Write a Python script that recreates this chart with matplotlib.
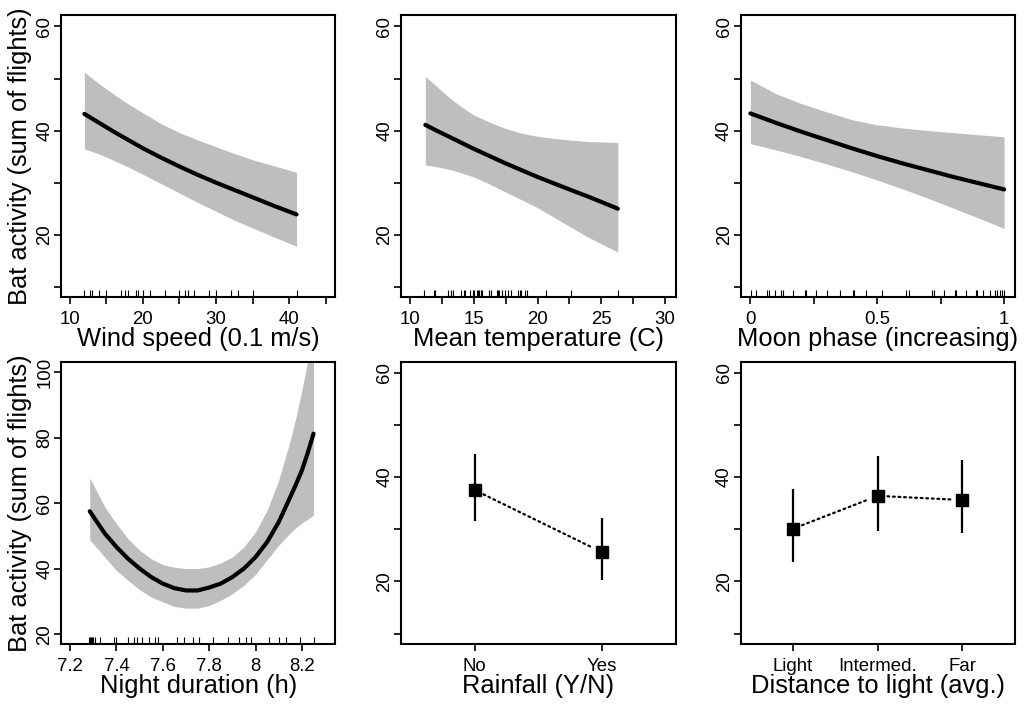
import matplotlib
matplotlib.use("Agg")
import matplotlib.pyplot as plt

plt.rcParams['font.family'] = ['Liberation Sans', 'DejaVu Sans']

# ---- data ----
wind_x = [12, 14, 16, 18, 20, 22.5, 25, 27.5, 30, 32.5, 35, 38, 41]
wind_fit = [43.2, 41.5, 39.8, 38.2, 36.6, 34.8, 33.1, 31.5, 30.0, 28.6, 27.2, 25.5, 23.9]
wind_upper = [51.2, 49.0, 47.0, 45.1, 43.4, 41.3, 39.6, 38.2, 36.9, 35.6, 34.4, 33.2, 32.0]
wind_lower = [36.5, 35.5, 34.3, 33.0, 31.6, 29.8, 28.0, 26.2, 24.5, 22.8, 21.3, 19.5, 17.8]
wind_rug = [12, 12.7, 13, 14, 15, 17, 17.6, 18, 19, 19.3, 20, 21, 23, 25,
            25.8, 26.1, 27, 29, 30, 32, 33, 35, 41]

temp_x = [11.2, 12, 13, 14, 15, 16.25, 17.5, 18.75, 20, 21.25, 22.5, 24, 25.2, 26.3]
temp_fit = [41.1, 40.1, 38.9, 37.7, 36.5, 35.1, 33.7, 32.4, 31.1, 29.9, 28.7, 27.3, 26.1, 25.0]
temp_upper = [50.4, 48.7, 46.5, 44.6, 43.0, 41.6, 40.4, 39.5, 38.9, 38.5, 38.2, 37.9, 37.8, 37.7]
temp_lower = [33.4, 33.1, 32.6, 31.9, 31.1, 29.7, 28.2, 26.7, 25.2, 23.4, 21.6, 19.5, 18.0, 16.7]
temp_rug = [11.1, 11.85, 11.95, 12.95, 13.2, 13.35, 14.0, 14.2, 14.3, 14.7,
            14.9, 15.0, 15.25, 15.35, 15.4, 15.55, 15.65, 16.2, 16.35, 16.8,
            16.9, 17.0, 17.2, 17.45, 17.7, 17.95, 18.5, 18.6, 18.7, 19.05,
            19.2, 20.7, 22.6, 26.3]

moon_x = [0, 0.1, 0.2, 0.3, 0.4, 0.5, 0.6, 0.7, 0.8, 0.9, 1.0]
moon_fit = [43.3, 41.5, 39.8, 38.2, 36.6, 35.1, 33.7, 32.4, 31.1, 29.9, 28.7]
moon_upper = [49.7, 47.1, 45.2, 43.6, 42.1, 41.1, 40.5, 40.0, 39.6, 39.2, 38.8]
moon_lower = [37.5, 36.3, 35.0, 33.6, 32.1, 30.5, 28.8, 27.0, 25.1, 23.2, 21.2]
moon_rug = [0.004, 0.024, 0.067, 0.072, 0.096, 0.122, 0.13, 0.168, 0.214,
            0.218, 0.258, 0.3, 0.352, 0.405, 0.41, 0.457, 0.52, 0.615, 0.625,
            0.715, 0.723, 0.762, 0.805, 0.812, 0.849, 0.888, 0.894, 0.917,
            0.943, 0.966, 0.972, 0.983, 0.993, 0.999]

night_x = [7.285, 7.35, 7.4, 7.45, 7.5, 7.55, 7.6, 7.65, 7.7, 7.75, 7.8,
           7.85, 7.9, 7.95, 8.0, 8.05, 8.1, 8.15, 8.175, 8.2, 8.225, 8.25]
night_fit = [57.6, 50.8, 46.7, 43.1, 40.1, 37.5, 35.5, 34.1, 33.4, 33.4,
             34.3, 35.5, 37.5, 40.1, 43.6, 48.2, 54.3, 62.0, 65.9, 70.1, 75.4, 81.3]
night_upper = [67.8, 58.9, 53.8, 49.2, 45.7, 43.1, 41.3, 40.5, 40.1, 40.1,
               40.6, 41.8, 43.6, 46.7, 51.3, 57.9, 67.1, 79.3, 86.5, 94.6, 103.5, 113.0]
night_lower = [48.9, 43.6, 39.5, 36.5, 33.6, 31.4, 29.9, 28.5, 28.0, 28.0,
               28.8, 30.4, 32.4, 35.0, 38.3, 42.8, 47.2, 51.0, 52.6, 54.0, 55.2, 56.4]
night_rug = [7.283, 7.287, 7.291, 7.296, 7.300, 7.306, 7.33, 7.39, 7.40,
             7.45, 7.476, 7.49, 7.51, 7.54, 7.566, 7.58, 7.66, 7.69, 7.73,
             7.757, 7.815, 7.88, 7.93, 7.96, 7.98, 8.06, 8.1, 8.13, 8.19, 8.25]

rain_cats = ['No', 'Yes']
rain_est = [37.5, 25.6]
rain_lo = [31.5, 20.3]
rain_hi = [44.4, 32.1]

light_cats = ['Light', 'Intermed.', 'Far']
light_est = [30.1, 36.4, 35.6]
light_lo = [23.8, 29.7, 29.2]
light_hi = [37.8, 44.0, 43.2]

y_ticks = [10, 20, 30, 40, 50, 60]
y_labels = ['', '20', '', '40', '', '60']
night_y_ticks = [20, 40, 60, 80, 100]

wind_ticks = [10, 15, 20, 25, 30, 35, 40, 45]
wind_labels = ['10', '', '20', '', '30', '', '40', '']
temp_ticks = [10, 12.5, 15, 17.5, 20, 22.5, 25, 27.5, 30]
temp_labels = ['10', '', '15', '', '20', '', '25', '', '30']
moon_ticks = [0, 0.25, 0.5, 0.75, 1]
moon_labels = ['0', '', '0.5', '', '1']
night_ticks = [7.2, 7.4, 7.6, 7.8, 8.0, 8.2]
night_labels = ['7.2', '7.4', '7.6', '7.8', '8', '8.2']

YLABEL = 'Bat activity (sum of flights)'
BAND = '#BEBEBE'

W, H = 1025, 704
fig = plt.figure(figsize=(W / 100, H / 100), dpi=100)


def add_box(left, right, top, bottom):
    return fig.add_axes([left / W, 1 - bottom / H, (right - left) / W, (bottom - top) / H])


def style(ax, yticks, ylabels):
    for s in ax.spines.values():
        s.set_linewidth(1.5)
    ax.tick_params(axis='both', direction='out', length=4.8, width=1.2, labelsize=13.4)
    ax.tick_params(axis='x', pad=5.5)
    ax.tick_params(axis='y', pad=0.8)
    ax.set_yticks(yticks)
    ax.set_yticklabels(ylabels, rotation=90, va='center')


def curve_panel(ax, x, fit, lo, hi, rug, xlabel):
    ax.fill_between(x, lo, hi, color=BAND, lw=0)
    ax.plot(x, fit, color='k', lw=3, solid_capstyle='round', solid_joinstyle='round')
    ax.vlines(rug, 0, 0.024, transform=ax.get_xaxis_transform(), color='k', lw=0.8)
    ax.set_xlabel(xlabel, fontsize=18.4)
    ax.xaxis.set_label_coords(0.5, -0.108)


def cat_panel(ax, cats, est, lo, hi, xlabel):
    pos = list(range(1, len(cats) + 1))
    # dotted connector with a small gap at each marker
    for i in range(len(pos) - 1):
        ax.annotate('', xy=(pos[i + 1], est[i + 1]), xytext=(pos[i], est[i]),
                    arrowprops=dict(arrowstyle='-', color='k', lw=1.6,
                                    linestyle=(0, (0.8, 1.7)),
                                    shrinkA=7, shrinkB=7))
    ax.vlines(pos, lo, hi, color='k', lw=1.6)
    ax.plot(pos, est, 's', color='k', ms=8)
    ax.set_xticks(pos)
    ax.set_xticklabels(cats)
    ax.set_xlabel(xlabel, fontsize=18.4)
    ax.xaxis.set_label_coords(0.5, -0.108)


# top row
ax1 = add_box(61, 335.3, 15, 296.7)
curve_panel(ax1, wind_x, wind_fit, wind_lower, wind_upper, wind_rug, 'Wind speed (0.1 m/s)')
ax1.set_xticks(wind_ticks)
ax1.set_xticklabels(wind_labels)
ax1.set_xlim(8.8, 46.3)
ax1.set_ylim(8.1, 62.2)
style(ax1, y_ticks, y_labels)

ax2 = add_box(401, 675.7, 15, 296.7)
curve_panel(ax2, temp_x, temp_fit, temp_lower, temp_upper, temp_rug, 'Mean temperature (C)')
ax2.set_xticks(temp_ticks)
ax2.set_xticklabels(temp_labels)
ax2.set_xlim(9.29, 30.84)
ax2.set_ylim(8.1, 62.2)
style(ax2, y_ticks, y_labels)

ax3 = add_box(740.5, 1015, 15, 296.7)
curve_panel(ax3, moon_x, moon_fit, moon_lower, moon_upper, moon_rug, 'Moon phase (increasing)')
ax3.set_xticks(moon_ticks)
ax3.set_xticklabels(moon_labels)
ax3.set_xlim(-0.039, 1.043)
ax3.set_ylim(8.1, 62.2)
style(ax3, y_ticks, y_labels)

# bottom row
ax4 = add_box(61, 335.3, 362.3, 643.5)
curve_panel(ax4, night_x, night_fit, night_lower, night_upper, night_rug, 'Night duration (h)')
ax4.set_xticks(night_ticks)
ax4.set_xticklabels(night_labels)
ax4.set_xlim(7.161, 8.344)
ax4.set_ylim(17.2, 103.1)
style(ax4, night_y_ticks, [str(v) for v in night_y_ticks])

ax5 = add_box(401, 675.7, 362.3, 643.5)
cat_panel(ax5, rain_cats, rain_est, rain_lo, rain_hi, 'Rainfall (Y/N)')
ax5.set_xlim(0.42, 2.58)
ax5.set_ylim(8.1, 62.0)
style(ax5, y_ticks, y_labels)

ax6 = add_box(740.5, 1015, 362.3, 643.5)
cat_panel(ax6, light_cats, light_est, light_lo, light_hi, 'Distance to light (avg.)')
ax6.set_xlim(0.38, 3.62)
ax6.set_ylim(8.1, 62.0)
style(ax6, y_ticks, y_labels)

for ax in (ax1, ax4):
    ax.set_ylabel(YLABEL, fontsize=18.4)
    ax.yaxis.set_label_coords(-0.106, 0.5)

fig.savefig('out.png', dpi=100)
